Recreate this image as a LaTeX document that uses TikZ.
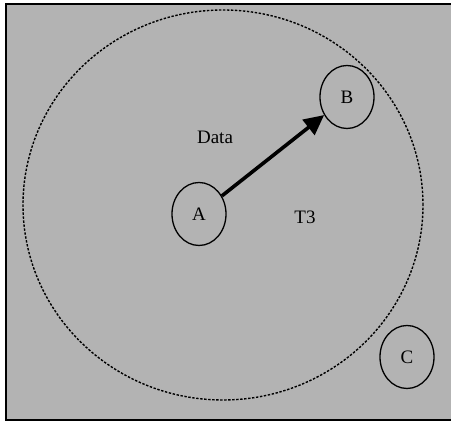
\documentclass[tikz,border=0pt]{standalone}
\usepackage{fontspec}
\setmainfont{Liberation Serif}
\usetikzlibrary{shapes.geometric,arrows.meta,positioning}
\definecolor{panelgray}{RGB}{179,179,179}

\begin{document}
\begin{tikzpicture}[x=1pt,y=1pt,
  every node/.style={font=\fontsize{19}{22}\selectfont},
  host/.style={draw,ellipse,line width=1.3pt,minimum width=54pt,minimum height=63pt,inner sep=0pt}]
\useasboundingbox (0,0) rectangle (451,422);
\draw[line width=2.2pt,fill=panelgray] (6,2) rectangle (460,418);
\draw[line width=1.4pt,dash pattern=on 2.4pt off 1.6pt] (223,217) ellipse [x radius=200,y radius=195];

\node[host] (A) at (199,208) {A};
\node[host] (B) at (347,325) {B};
\node[host] (C) at (407,65) {C};
\node (data) at (215,285) {Data};
\node (T3) at (305,205) {T3};

\draw[line width=3.6pt,-{Triangle[length=20pt,width=19pt]}] (A) -- (B);
\end{tikzpicture}
\end{document}
